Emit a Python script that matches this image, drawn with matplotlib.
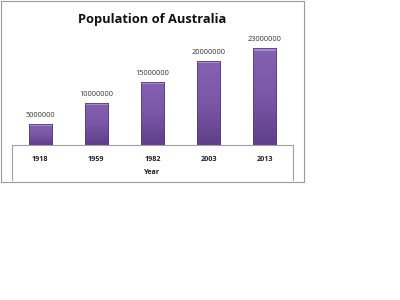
import matplotlib
matplotlib.use("Agg")
import matplotlib.pyplot as plt
import numpy as np
from matplotlib.patches import Rectangle
from matplotlib.lines import Line2D
from matplotlib.colors import LinearSegmentedColormap

# ---------------------------------------------------------------------------
# Data
# ---------------------------------------------------------------------------
years = ["1918", "1959", "1982", "2003", "2013"]
population = [5000000, 10000000, 15000000, 20000000, 23000000]

BAR_EDGE = "#5a3d80"
TEXT_COLOR = "#333333"
bar_cmap = LinearSegmentedColormap.from_list("bar", ["#5e3f88", "#7a57a7", "#8462b2"])

plt.rcParams["font.family"] = ["Open Sans", "DejaVu Sans"]

fig = plt.figure(figsize=(4, 3), dpi=100)

# axes sits on the baseline of the category box
ax = fig.add_axes([12 / 400, 1 - 145 / 300, 281 / 400, 105.4 / 300])
xs = list(range(len(years)))
bars = ax.bar(xs, population, width=0.41, color="none",
              edgecolor=BAR_EDGE, linewidth=0.6, zorder=3)

# vertical gradient fill clipped to each bar, light strip on top
grad = np.linspace(0, 1, 256).reshape(-1, 1)
for b in bars:
    x0, w, h = b.get_x(), b.get_width(), b.get_height()
    im = ax.imshow(grad, cmap=bar_cmap, origin="lower", aspect="auto",
                   extent=[x0, x0 + w, 0, h], zorder=2)
    im.set_clip_path(b)
    ax.add_patch(Rectangle((x0, h - 600000), w, 600000,
                           facecolor="#a888d2", edgecolor="none", zorder=2.5))

for x, v in zip(xs, population):
    ax.text(x, v + 1200000, str(v), ha="center", va="bottom",
            fontsize=5.3, color=TEXT_COLOR)

ax.set_xlim(-0.5, 4.5)
ax.set_ylim(0, 25000000)
ax.set_yticks([])
ax.set_xticks(xs)
ax.set_xticklabels(years, fontsize=5.2, fontweight="bold", color="#222222")
ax.tick_params(axis="x", length=0, pad=8)
for s in ["top", "left", "right"]:
    ax.spines[s].set_visible(False)
ax.spines["bottom"].set_color("#a0a0a0")
ax.spines["bottom"].set_linewidth(0.8)
ax.set_xlabel("Year", fontsize=5.2, fontweight="bold", color="#222222", labelpad=4)

# side lines of the category box
for xf in [12 / 400, 293 / 400]:
    fig.add_artist(Line2D([xf, xf], [1 - 145 / 300, 1 - 180 / 300],
                          transform=fig.transFigure, color="#a0a0a0", linewidth=0.8))

# chart area border
fig.add_artist(Rectangle((1 / 400, 1 - 182 / 300), 303 / 400, 181.5 / 300,
                         transform=fig.transFigure, facecolor="none",
                         edgecolor="#9a9a9a", linewidth=0.8))

fig.text(152 / 400, 1 - 19 / 300, "Population of Australia", ha="center", va="center",
         fontsize=9.3, fontweight="bold", color="#111111")

fig.savefig("out.png", dpi=100)
